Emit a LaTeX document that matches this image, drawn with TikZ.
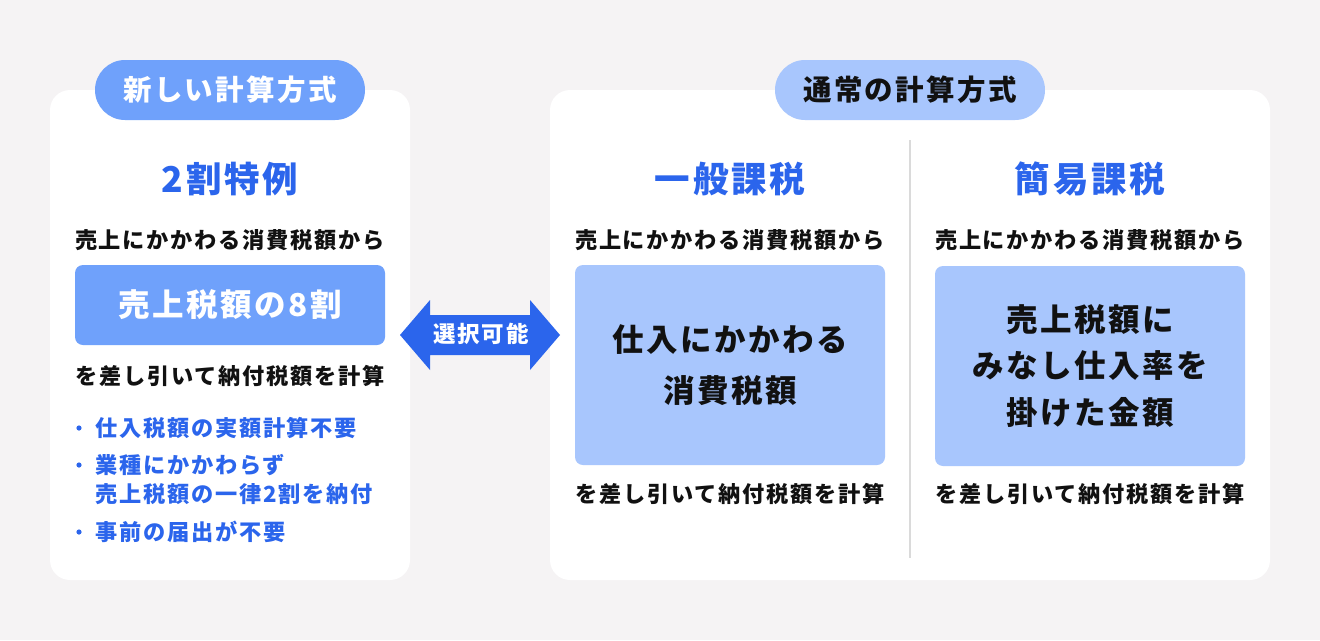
\documentclass[tikz,border=0pt]{standalone}
\usepackage{fontspec}
\newfontfamily\jp{Noto Sans CJK JP}[LetterSpace=8]
\definecolor{bg}{HTML}{F5F3F4}
\definecolor{dblue}{HTML}{2B65EC}
\definecolor{mblue}{HTML}{6FA1FB}
\definecolor{lblue}{HTML}{A8C6FD}
\definecolor{divg}{HTML}{DADADA}
\definecolor{txt}{HTML}{111111}
\tikzset{
  card/.style={fill=white, rounded corners=20pt, draw=none},
  tab/.style={rounded corners=30pt, draw=none, minimum width=270pt, minimum height=60pt, inner sep=0pt, font=\jp\bfseries\fontsize{28.5}{32}\selectfont},
  title/.style={text=dblue, inner sep=0pt, font=\jp\bfseries\fontsize{35.5}{40}\selectfont},
  body/.style={text=txt, inner sep=0pt, font=\jp\bfseries\fontsize{22.2}{26}\selectfont},
  bullet/.style={text=dblue, inner sep=0pt, anchor=west, align=left, font=\jp\bfseries\fontsize{22.2}{29}\selectfont},
  box/.style={rounded corners=8pt, draw=none, minimum width=310pt, inner sep=0pt, align=center},
}
\begin{document}
\begin{tikzpicture}[x=1pt,y=-1pt]
\fill[bg] (0,0) rectangle (1320,640);
\useasboundingbox (0,0) rectangle (1320,640);
% cards
\fill[card] (50,90) rectangle (410,580);
\fill[card] (550,90) rectangle (1270,580);
% tabs
\node[tab, fill=mblue, text=white] (tabL) at (230,90) {新しい計算方式};
\node[tab, fill=lblue, text=txt] (tabR) at (910,90) {通常の計算方式};
% divider
\draw[divg, line width=2pt] (910,140) -- (910,558);
% left column
\node[title] (t1) at (230,179) {2割特例};
\node[body] (b1a) at (230,240) {売上にかかわる消費税額から};
\node[box, fill=mblue, minimum height=80pt, text=white, font=\jp\bfseries\fontsize{31.5}{36}\selectfont] (x1) at (230,305) {売上税額の8割};
\node[body] (b1b) at (230,376) {を差し引いて納付税額を計算};
\fill[dblue] (79,428) circle (2.6pt);
\node[bullet] (l1) at (95,428) {仕入税額の実額計算不要};
\fill[dblue] (79,465) circle (2.6pt);
\node[bullet] (l2) at (95,480) {業種にかかわらず\\売上税額の一律2割を納付};
\fill[dblue] (79,532) circle (2.6pt);
\node[bullet] (l3) at (95,532) {事前の届出が不要};
% middle column
\node[title] (t2) at (730,179) {一般課税};
\node[body] (b2a) at (730,240) {売上にかかわる消費税額から};
\node[box, fill=lblue, minimum height=200pt, text=txt, font=\jp\bfseries\fontsize{31.5}{51}\selectfont] (x2) at (730,365) {仕入にかかわる\\消費税額};
\node[body] (b2b) at (730,494) {を差し引いて納付税額を計算};
% right column
\node[title] (t3) at (1090,179) {簡易課税};
\node[body] (b3a) at (1090,240) {売上にかかわる消費税額から};
\node[box, fill=lblue, minimum height=200pt, text=txt, font=\jp\bfseries\fontsize{31.5}{46.5}\selectfont] (x3) at (1090,366) {売上税額に\\みなし仕入率を\\掛けた金額};
\node[body] (b3b) at (1090,494) {を差し引いて納付税額を計算};
% double arrow
\coordinate (aL) at (400,335);
\coordinate (aR) at (560,335);
\fill[dblue] (aL) -- (430,300) -- (430,315) -- (530,315) -- (530,300) -- (aR) -- (530,370) -- (530,355) -- (430,355) -- (430,370) -- cycle;
\node[text=white, inner sep=0pt, font=\jp\bfseries\fontsize{22.5}{26}\selectfont] (sel) at (481,334) {選択可能};
\end{tikzpicture}
\end{document}
